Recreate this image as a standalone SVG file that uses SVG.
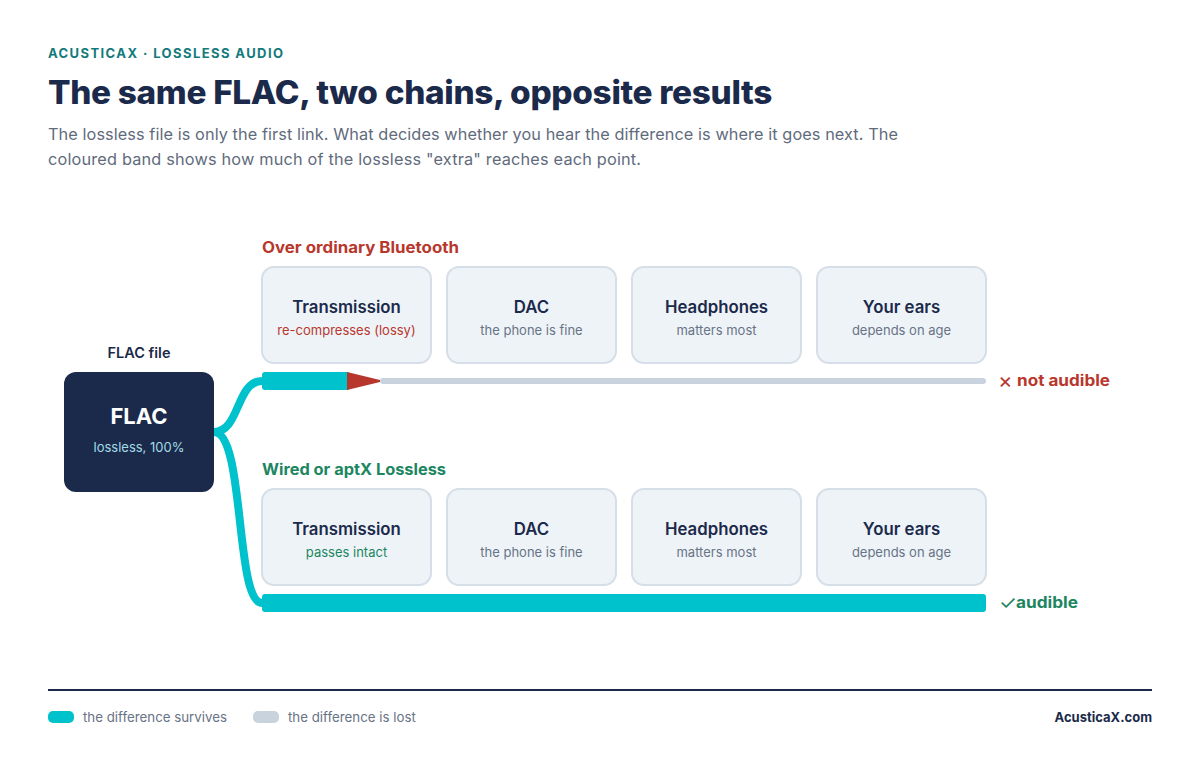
<svg xmlns="http://www.w3.org/2000/svg" width="1200" height="761" viewBox="0 0 1200 761">
<style>
text{font-family:Inter,"Noto Sans","Liberation Sans",sans-serif}
.kick{font-size:13px;font-weight:700;fill:#137a7c;letter-spacing:2px}
.title{font-size:32px;font-weight:800;fill:#1b2a4a;letter-spacing:-0.3px}
.sub{font-size:16.3px;fill:#5f6b7c}
.sec{font-size:15.5px;font-weight:700}
.sym{font-weight:400}
.box{fill:#eef3f8;stroke:#d6dee7;stroke-width:2}
.bt{font-size:16.8px;font-weight:600;fill:#1b2a4a;text-anchor:middle}
.bs{font-size:13px;fill:#687386;text-anchor:middle}
.red{fill:#b8372d}
.green{fill:#1b8660}
.conn{fill:none;stroke:#00c2cc;stroke-width:8;stroke-linecap:round}
.leg{font-size:13.3px;fill:#687386}
</style>
<rect width="1200" height="761" fill="#ffffff"/>
<text class="kick" x="48" y="58" textLength="237" lengthAdjust="spacing">ACUSTICAX · LOSSLESS AUDIO</text>
<text class="title" x="48" y="104" textLength="724" lengthAdjust="spacingAndGlyphs">The same FLAC, two chains, opposite results</text>
<text class="sub" x="48" y="140" textLength="850" lengthAdjust="spacing">The lossless file is only the first link. What decides whether you hear the difference is where it goes next. The</text>
<text class="sub" x="48" y="165" textLength="593" lengthAdjust="spacing">coloured band shows how much of the lossless "extra" reaches each point.</text>

<g id="connectors">
<path class="conn" d="M214,432 C240,432 236,381 262,381"/>
<path class="conn" d="M214,432 C245,432 235,603 262,603"/>
</g>

<g id="flac">
<text x="139" y="358" text-anchor="middle" style="font-size:14.5px;font-weight:600;fill:#1b2a4a">FLAC file</text>
<rect x="64" y="372" width="150" height="120" rx="12" fill="#1b2a4a"/>
<text x="139" y="424" text-anchor="middle" style="font-size:22px;font-weight:700;fill:#ffffff">FLAC</text>
<text x="139" y="452" text-anchor="middle" style="font-size:13px;fill:#a3dbe8">lossless, 100%</text>
</g>

<g id="bluetooth">
<text class="sec red" x="262" y="253" textLength="197" lengthAdjust="spacingAndGlyphs">Over ordinary Bluetooth</text>
<g id="bt-transmission"><rect class="box" x="262" y="267" width="169" height="96" rx="12"/><text class="bt" x="346.5" y="313">Transmission</text><text class="bs red" x="346.5" y="335">re-compresses (lossy)</text></g>
<g id="bt-dac"><rect class="box" x="447" y="267" width="169" height="96" rx="12"/><text class="bt" x="531.5" y="313">DAC</text><text class="bs" x="531.5" y="335">the phone is fine</text></g>
<g id="bt-headphones"><rect class="box" x="632" y="267" width="169" height="96" rx="12"/><text class="bt" x="716.5" y="313">Headphones</text><text class="bs" x="716.5" y="335">matters most</text></g>
<g id="bt-ears"><rect class="box" x="817" y="267" width="169" height="96" rx="12"/><text class="bt" x="901.5" y="313">Your ears</text><text class="bs" x="901.5" y="335">depends on age</text></g>
<g id="bt-band">
<rect x="380" y="378" width="606" height="6" rx="3" fill="#c8d3de"/>
<rect x="262" y="372" width="88" height="18" rx="3" fill="#00c2cc"/>
<path d="M347,372 L380,380 L380,382 L347,390 Z" fill="#b8372d"/>
</g>
<text class="sec red" x="998" y="388"><tspan class="sym" style="font-size:22px">×</tspan><tspan x="1017" y="386" textLength="93" lengthAdjust="spacingAndGlyphs">not audible</tspan></text>
</g>

<g id="wired">
<text class="sec green" x="262" y="475" textLength="184" lengthAdjust="spacingAndGlyphs">Wired or aptX Lossless</text>
<g id="w-transmission"><rect class="box" x="262" y="489" width="169" height="96" rx="12"/><text class="bt" x="346.5" y="535">Transmission</text><text class="bs green" x="346.5" y="557">passes intact</text></g>
<g id="w-dac"><rect class="box" x="447" y="489" width="169" height="96" rx="12"/><text class="bt" x="531.5" y="535">DAC</text><text class="bs" x="531.5" y="557">the phone is fine</text></g>
<g id="w-headphones"><rect class="box" x="632" y="489" width="169" height="96" rx="12"/><text class="bt" x="716.5" y="535">Headphones</text><text class="bs" x="716.5" y="557">matters most</text></g>
<g id="w-ears"><rect class="box" x="817" y="489" width="169" height="96" rx="12"/><text class="bt" x="901.5" y="535">Your ears</text><text class="bs" x="901.5" y="557">depends on age</text></g>
<rect x="262" y="594" width="724" height="18" rx="3" fill="#00c2cc"/>
<text class="sec green" x="999" y="610"><tspan class="sym" style="font-size:20px">✓</tspan><tspan x="1016" y="608" textLength="62" lengthAdjust="spacingAndGlyphs">audible</tspan></text>
</g>

<g id="footer">
<line x1="48" y1="690" x2="1152" y2="690" stroke="#1b2a4a" stroke-width="2"/>
<rect x="48" y="711" width="26" height="12" rx="5" fill="#00c2cc"/>
<text class="leg" x="83" y="722">the difference survives</text>
<rect x="253" y="711" width="26" height="12" rx="5" fill="#c8d3de"/>
<text class="leg" x="288" y="722">the difference is lost</text>
<text x="1152" y="722" text-anchor="end" style="font-size:13px;font-weight:700;fill:#1b2a4a">AcusticaX.com</text>
</g>
</svg>
